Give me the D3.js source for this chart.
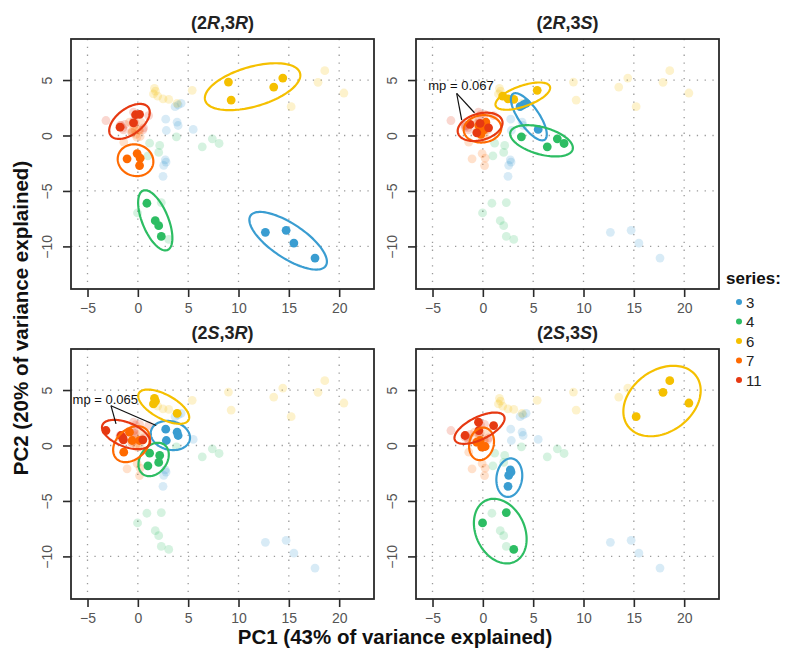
<!DOCTYPE html>
<html>
<head>
<meta charset="UTF-8">
<title>PCA by stereoisomer</title>
<script src="https://cdn.jsdelivr.net/npm/d3@7"></script>
<style>
  body { margin: 0; background: #fff; }
  text { font-family: "Liberation Sans", Arial, Helvetica, sans-serif; }
</style>
</head>
<body>
<svg id="chart" width="785" height="654"></svg>
<script>
// series and their colours
const series = ["3", "4", "6", "7", "11"];
const seriesColors = ["#3a9dd1", "#2dbd63", "#f5c000", "#ff6a00", "#e63912"];

// panel titles: [config at C2, config at C3]
const panelNames = [["R", "R"], ["R", "S"], ["S", "R"], ["S", "S"]];

// axis ticks
const xTicks = [-5, 0, 5, 10, 15, 20];
const yTicks = [-10, -5, 0, 5];

// points per stereoisomer: [series, PC1, PC2]
const pts2R3R = [
  ["3", 12.67, -8.73], ["3", 14.73, -8.55], ["3", 15.5, -9.7], ["3", 17.6, -11.05],
  ["4", 0.9, -6.11], ["4", 1.73, -7.68], ["4", 2.07, -8.13], ["4", 2.33, -9.1],
  ["6", 9.0, 4.82], ["6", 9.27, 3.19], ["6", 13.5, 4.37], ["6", 14.4, 5.18],
  ["7", -1.07, -2.1], ["7", -0.07, -1.63], ["7", 0.23, -2.05], ["7", 0.17, -2.71],
  ["11", -1.77, 0.75], ["11", -0.43, 1.14], ["11", -0.23, 1.87], ["11", 0.17, 1.9]
];
const pts2R3S = [
  ["3", 3.7, 2.6], ["3", 4.3, 2.9], ["3", 4.0, 2.75], ["3", 5.5, 0.55],
  ["4", 3.83, -0.12], ["4", 6.4, -1.02], ["4", 7.4, -0.3], ["4", 8.07, -0.72],
  ["6", 5.4, 4.07], ["6", 1.97, 3.55], ["6", 2.5, 3.31], ["6", 3.07, 3.25],
  ["7", -0.4, 0.9], ["7", 0.1, 0.5], ["7", 0.3, 1.2], ["7", -0.2, 0.1],
  ["11", -1.27, 1.0], ["11", -0.6, 0.24], ["11", 0.57, 0.69], ["11", -0.27, 1.1]
];
const pts2S3R = [
  ["3", 2.77, 1.47], ["3", 3.9, 1.2], ["3", 4.0, 0.9], ["3", 2.83, 0.45],
  ["4", 1.17, -0.69], ["4", 2.17, -0.9], ["4", 1.0, -1.83], ["4", 2.07, -1.53],
  ["6", 1.65, 4.25], ["6", 1.55, 3.75], ["6", 3.9, 2.9], ["6", 1.75, 4.0],
  ["7", -0.83, 1.2], ["7", 0.17, 0.45], ["7", -1.4, -0.6], ["7", -0.57, 0.45],
  ["11", -3.17, 1.35], ["11", -1.67, 0.9], ["11", -1.43, 0.51], ["11", 0.5, 0.51], ["11", -1.5, 0.69]
];
const pts2S3S = [
  ["3", 2.73, -2.19], ["3", 2.57, -2.69], ["3", 2.5, -3.68], ["3", 2.8, -2.4],
  ["4", -0.03, -6.98], ["4", 2.33, -6.05], ["4", 3.07, -9.37],
  ["6", 15.23, 2.6], ["6", 17.9, 4.79], ["6", 18.57, 5.84], ["6", 20.47, 3.83],
  ["7", -0.27, 0.45], ["7", 0.23, -0.09], ["7", -0.1, -0.15], ["7", -0.6, 0.3],
  ["11", -1.77, 0.9], ["11", -0.43, 2.1], ["11", 1.07, 1.8], ["11", -0.4, 1.35]
];

// ellipses per stereoisomer: [series, centre PC1, centre PC2, semi-axis a, semi-axis b, angle deg]
const ell2R3R = [
  ["3", 14.93, -9.49, 4.37, 1.58, -30.4],
  ["4", 1.73, -7.65, 2.94, 1.27, -64.7],
  ["6", 11.4, 4.4, 4.87, 1.8, 14.2],
  ["7", -0.23, -2.23, 1.78, 1.42, -10],
  ["11", -0.83, 1.27, 2.26, 1.2, 32.3]
];
const ell2R3S = [
  ["3", 4.57, 1.69, 2.6, 0.97, -51.7],
  ["4", 5.83, -0.48, 3.19, 1.23, -13.6],
  ["6", 3.97, 3.55, 2.83, 0.94, 17.3],
  ["7", -0.03, 0.6, 1.87, 1.23, 5],
  ["11", -0.27, 0.78, 2.27, 1.2, 13]
];
const ell2S3R = [
  ["3", 3.23, 0.9, 1.97, 1.29, -10],
  ["4", 1.57, -1.26, 1.71, 1.27, 45],
  ["6", 2.57, 3.5, 2.75, 1.11, -25.2],
  ["7", -0.63, 0.12, 2.0, 1.4, 35],
  ["11", -1.17, 0.99, 2.5, 1.1, -19]
];
const ell2S3S = [
  ["3", 2.63, -2.9, 1.75, 1.27, 80],
  ["4", 1.73, -7.72, 3.12, 2.37, -56.7],
  ["6", 17.8, 4.01, 4.09, 2.85, 28.6],
  ["7", -0.13, 0.15, 1.5, 1.2, 70],
  ["11", -0.33, 1.56, 2.67, 1.03, 23.1]
];

// "mp" call-outs: panel index, label, label position, line start, line ends
const notes = [
  { panel: 1, label: "mp = 0.067", at: [-2.17, 4.52], from: [-2.6, 3.8], to: [[-2.1, 1.39], [-0.83, 2.05]] },
  { panel: 2, label: "mp = 0.065", at: [-3.23, 4.19], from: [-2.67, 3.59], to: [[-2.17, 1.95], [1.83, 1.8]] }
];

const allPts = [pts2R3R, pts2R3S, pts2S3R, pts2S3S];
const allEll = [ell2R3R, ell2R3S, ell2S3R, ell2S3S];

const svg = d3.select("#chart");
const color = d3.scaleOrdinal().domain(series).range(seriesColors);

const pw = 303, ph = 250;
const lefts = [71, 416], tops = [39, 349];

const x = d3.scaleLinear().domain([-6.64, 23.46]).range([0, pw]);
const y = d3.scaleLinear().domain([-13.84, 8.7]).range([ph, 0]);

const ellLine = d3.line().x(d => x(d[0])).y(d => y(d[1])).curve(d3.curveLinearClosed);
function ellPoints(e) {
  const th = e[5] * Math.PI / 180;
  return d3.range(0, 2 * Math.PI, Math.PI / 60).map(t => [
    e[1] + e[3] * Math.cos(th) * Math.cos(t) - e[4] * Math.sin(th) * Math.sin(t),
    e[2] + e[3] * Math.sin(th) * Math.cos(t) + e[4] * Math.cos(th) * Math.sin(t)
  ]);
}

panelNames.forEach((nm, i) => {
  const g = svg.append("g")
    .attr("transform", `translate(${lefts[i % 2]},${tops[Math.floor(i / 2)]})`);

  // title
  const t = g.append("text").attr("x", pw / 2).attr("y", -10)
    .attr("text-anchor", "middle").attr("font-size", 18).attr("font-weight", "bold").attr("fill", "#222");
  t.append("tspan").text("(2");
  t.append("tspan").attr("font-style", "italic").text(nm[0]);
  t.append("tspan").text(",3");
  t.append("tspan").attr("font-style", "italic").text(nm[1]);
  t.append("tspan").text(")");

  // dotted grid
  g.selectAll(".gx").data(xTicks).join("line")
    .attr("x1", d => x(d)).attr("x2", d => x(d)).attr("y1", 0).attr("y2", ph)
    .attr("stroke", "#9a9a9a").attr("stroke-width", 1.3).attr("stroke-dasharray", "1.3 6.5");
  g.selectAll(".gy").data(yTicks).join("line")
    .attr("y1", d => y(d)).attr("y2", d => y(d)).attr("x1", 0).attr("x2", pw)
    .attr("stroke", "#9a9a9a").attr("stroke-width", 1.3).attr("stroke-dasharray", "1.3 6.5");

  // faded points of the other stereoisomers
  const faded = allPts.filter((p, j) => j !== i).flat();
  g.append("g").selectAll("circle").data(faded).join("circle")
    .attr("cx", d => x(d[1])).attr("cy", d => y(d[2])).attr("r", 4.4)
    .attr("fill", d => color(d[0])).attr("opacity", 0.2);

  // highlighted points
  g.append("g").selectAll("circle").data(allPts[i]).join("circle")
    .attr("cx", d => x(d[1])).attr("cy", d => y(d[2])).attr("r", 4.4)
    .attr("fill", d => color(d[0]));

  // ellipses
  g.append("g").selectAll("path").data(allEll[i]).join("path")
    .attr("d", d => ellLine(ellPoints(d)))
    .attr("fill", "none").attr("stroke", d => color(d[0])).attr("stroke-width", 2.2);

  // call-outs
  notes.filter(n => n.panel === i).forEach(n => {
    n.to.forEach(p => g.append("line")
      .attr("x1", x(n.from[0])).attr("y1", y(n.from[1]))
      .attr("x2", x(p[0])).attr("y2", y(p[1]))
      .attr("stroke", "#111").attr("stroke-width", 1.2));
    g.append("text").attr("x", x(n.at[0])).attr("y", y(n.at[1]) + 4.5)
      .attr("text-anchor", "middle").attr("font-size", 13).attr("fill", "#111").text(n.label);
  });

  // frame
  g.append("rect").attr("width", pw).attr("height", ph)
    .attr("fill", "none").attr("stroke", "#2a2a2a").attr("stroke-width", 1.8);

  // axes
  const ax = g.append("g").attr("transform", `translate(0,${ph})`)
    .call(d3.axisBottom(x).tickValues(xTicks).tickSize(8).tickPadding(6));
  ax.select(".domain").remove();
  ax.selectAll("line").attr("stroke", "#2a2a2a").attr("stroke-width", 1.6);
  ax.selectAll("text").attr("font-size", 14).attr("fill", "#555")
    .attr("font-family", "Liberation Sans, Arial, sans-serif");

  const ay = g.append("g").call(d3.axisLeft(y).tickValues(yTicks).tickSize(8));
  ay.select(".domain").remove();
  ay.selectAll("line").attr("stroke", "#2a2a2a").attr("stroke-width", 1.6);
  ay.selectAll("text")
    .attr("x", null).attr("dy", null)
    .attr("transform", "translate(-19,0) rotate(-90)")
    .attr("text-anchor", "middle").attr("font-size", 14).attr("fill", "#555")
    .attr("font-family", "Liberation Sans, Arial, sans-serif");
});

// axis titles
svg.append("text").attr("x", 395).attr("y", 644).attr("text-anchor", "middle")
  .attr("font-size", 20.5).attr("font-weight", "bold").attr("fill", "#111")
  .text("PC1 (43% of variance explained)");
svg.append("text").attr("transform", "translate(28,318) rotate(-90)").attr("text-anchor", "middle")
  .attr("font-size", 20.5).attr("font-weight", "bold").attr("fill", "#111")
  .text("PC2 (20% of variance explained)");

// legend
const leg = svg.append("g").attr("transform", "translate(726,284)");
leg.append("text").attr("font-size", 17).attr("font-weight", "bold").attr("fill", "#111").text("series:");
const rows = leg.selectAll(".row").data(series).join("g")
  .attr("transform", (d, k) => `translate(0,${18 + k * 19.5})`);
rows.append("circle").attr("cx", 13).attr("cy", 0).attr("r", 3).attr("fill", d => color(d));
rows.append("text").attr("x", 20).attr("y", 5.5).attr("font-size", 15).attr("fill", "#222").text(d => d);
</script>
</body>
</html>
